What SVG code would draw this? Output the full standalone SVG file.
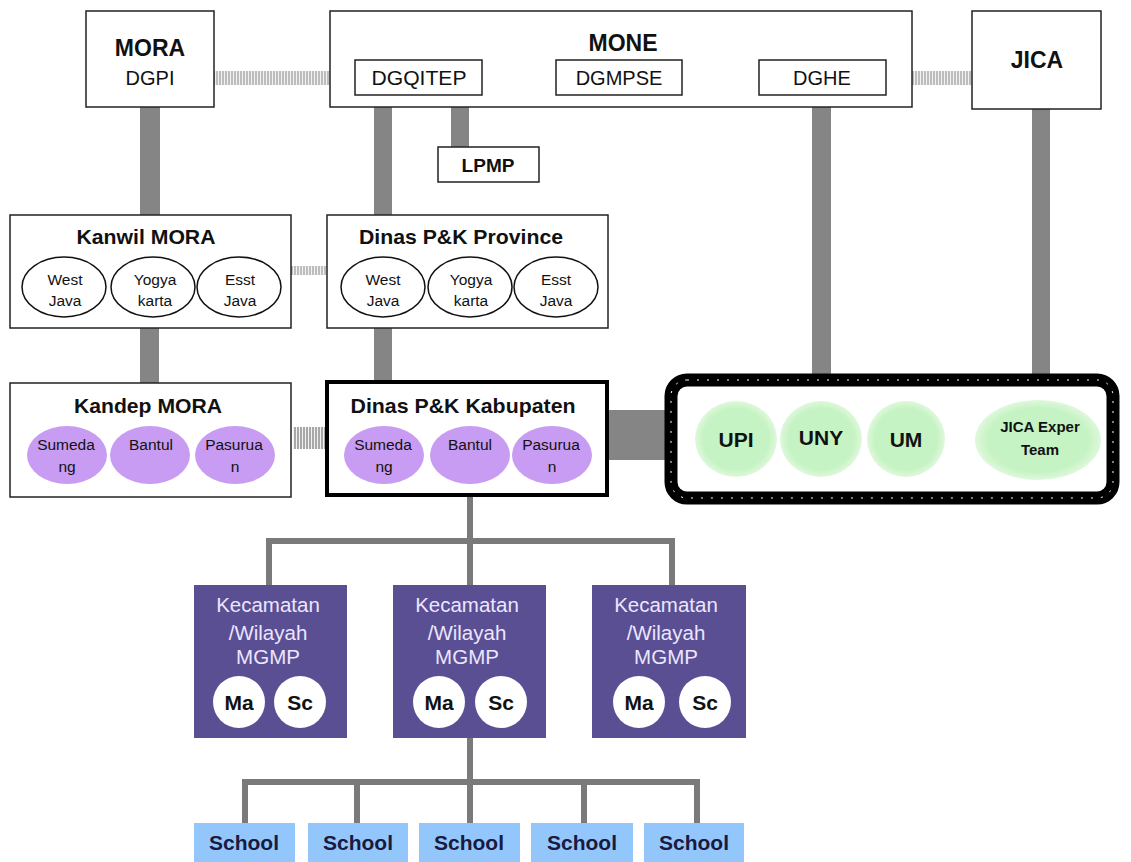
<svg xmlns="http://www.w3.org/2000/svg" width="1131" height="862" viewBox="0 0 1131 862">
<style>
text{font-family:"Liberation Sans",Arial,sans-serif;text-anchor:middle}
.box{fill:#fff;stroke:#222;stroke-width:1.5}
.bar{fill:#858585}
.line{stroke:#7a7a7a;stroke-width:6;fill:none;stroke-linecap:round}
.t-b{font-weight:bold;fill:#111}
.t{fill:#111}
.et{fill:#111;font-size:15.5px}
.ell{fill:#fff;stroke:#111;stroke-width:1.5}
.pur{fill:#c79cf2}
.kec{fill:#5a4f93}
.kt{fill:#ece6ff;font-size:20.5px}
.wc{fill:#fff}
.school{fill:#93c7fb}
.st{font-weight:bold;fill:#1a1a40;font-size:21px}
.ttl{font-weight:bold;fill:#111;font-size:21px}
</style>
<defs>
<pattern id="hatch" width="3" height="10" patternUnits="userSpaceOnUse">
<rect width="3" height="10" fill="#f2f2f2"/>
<rect width="2" height="10" fill="#bdbdbd"/>
</pattern>
<pattern id="hatch2" width="3" height="10" patternUnits="userSpaceOnUse">
<rect width="3" height="10" fill="#f2f2f2"/>
<rect width="2" height="10" fill="#a8a8a8"/>
</pattern>
<radialGradient id="gg" cx="0.5" cy="0.5" r="0.5">
<stop offset="0.8" stop-color="#c6f3c3"/>
<stop offset="1" stop-color="#dff8dc"/>
</radialGradient>
</defs>
<rect width="1131" height="862" fill="#fff"/>

<g id="connectors">
<rect x="214" y="71" width="141" height="14" fill="url(#hatch)"/>
<rect x="482" y="71" width="74" height="14" fill="url(#hatch)"/>
<rect x="682" y="71" width="77" height="14" fill="url(#hatch)"/>
<rect x="886" y="71" width="86" height="14" fill="url(#hatch)"/>
<rect x="291" y="266" width="36" height="9" fill="url(#hatch)"/>
<rect x="293" y="427" width="32" height="22" fill="url(#hatch2)"/>
<rect class="bar" x="140" y="107" width="20" height="108"/>
<rect class="bar" x="374" y="95" width="18" height="120"/>
<rect class="bar" x="451" y="95" width="18" height="52"/>
<rect class="bar" x="812" y="95" width="19" height="282"/>
<rect class="bar" x="1032" y="109" width="18" height="268"/>
<rect class="bar" x="140" y="328" width="19" height="55"/>
<rect class="bar" x="374" y="328" width="18" height="53"/>
<rect class="bar" x="607" y="410" width="58" height="50"/>
<path class="line" d="M470 496V585M269 585V541H672V585"/>
<path class="line" d="M470 738V823M245 823V782H697V823M357 782V823M584 782V823"/>
</g>

<g id="mora">
<rect class="box" x="86" y="11" width="128" height="96"/>
<text class="t-b" x="150" y="56" font-size="23">MORA</text>
<text class="t" x="150" y="85" font-size="20">DGPI</text>
</g>
<g id="mone">
<rect class="box" x="330" y="11" width="582" height="96"/>
<text class="t-b" x="623" y="51" font-size="23">MONE</text>
</g>
<g id="dgqitep">
<rect class="box" x="355" y="60" width="127" height="35"/>
<text class="t" x="419" y="85" font-size="20" textLength="95" lengthAdjust="spacingAndGlyphs">DGQITEP</text>
</g>
<g id="dgmpse">
<rect class="box" x="556" y="60" width="126" height="35"/>
<text class="t" x="619" y="85" font-size="20">DGMPSE</text>
</g>
<g id="dghe">
<rect class="box" x="759" y="60" width="127" height="35"/>
<text class="t" x="822" y="85" font-size="20">DGHE</text>
</g>
<g id="jica">
<rect class="box" x="972" y="11" width="129" height="98"/>
<text class="t-b" x="1037" y="68" font-size="23">JICA</text>
</g>
<g id="lpmp">
<rect class="box" x="438" y="147" width="101" height="35"/>
<text class="t-b" x="488" y="172" font-size="19">LPMP</text>
</g>

<g id="kanwil">
<rect class="box" x="10" y="215" width="281" height="113"/>
<text class="ttl" x="146" y="244" textLength="139" lengthAdjust="spacingAndGlyphs">Kanwil MORA</text>
<ellipse class="ell" cx="64" cy="287" rx="42" ry="30"/>
<ellipse class="ell" cx="153" cy="287" rx="42" ry="30"/>
<ellipse class="ell" cx="239" cy="287" rx="42" ry="30"/>
<text class="et"><tspan x="65" y="285">West</tspan><tspan x="65" y="306">Java</tspan></text>
<text class="et"><tspan x="155" y="285">Yogya</tspan><tspan x="155" y="306">karta</tspan></text>
<text class="et"><tspan x="240" y="285">Esst</tspan><tspan x="240" y="306">Java</tspan></text>
</g>
<g id="province">
<rect class="box" x="327" y="215" width="281" height="113"/>
<text class="ttl" x="461" y="244" textLength="204" lengthAdjust="spacingAndGlyphs">Dinas P&amp;K Province</text>
<ellipse class="ell" cx="383" cy="287" rx="42" ry="30"/>
<ellipse class="ell" cx="470" cy="287" rx="42" ry="30"/>
<ellipse class="ell" cx="556" cy="287" rx="42" ry="30"/>
<text class="et"><tspan x="383" y="285">West</tspan><tspan x="383" y="306">Java</tspan></text>
<text class="et"><tspan x="471" y="285">Yogya</tspan><tspan x="471" y="306">karta</tspan></text>
<text class="et"><tspan x="556" y="285">Esst</tspan><tspan x="556" y="306">Java</tspan></text>
</g>
<g id="kandep">
<rect class="box" x="10" y="383" width="281" height="114"/>
<text class="ttl" x="148" y="413" textLength="148" lengthAdjust="spacingAndGlyphs">Kandep MORA</text>
<ellipse class="pur" cx="67" cy="455" rx="40" ry="29"/>
<ellipse class="pur" cx="150" cy="455" rx="40" ry="29"/>
<ellipse class="pur" cx="235" cy="455" rx="40" ry="29"/>
<text class="et"><tspan x="66" y="450">Sumeda</tspan><tspan x="67" y="472">ng</tspan></text>
<text class="et" x="151" y="450">Bantul</text>
<text class="et"><tspan x="234" y="450">Pasurua</tspan><tspan x="235" y="472">n</tspan></text>
</g>
<g id="kabupaten">
<rect x="327" y="382" width="280" height="113" fill="#fff" stroke="#000" stroke-width="4"/>
<text class="ttl" x="463" y="413" textLength="225" lengthAdjust="spacingAndGlyphs">Dinas P&amp;K Kabupaten</text>
<ellipse class="pur" cx="384" cy="455" rx="40" ry="29"/>
<ellipse class="pur" cx="470" cy="455" rx="40" ry="29"/>
<ellipse class="pur" cx="552" cy="455" rx="40" ry="29"/>
<text class="et"><tspan x="383" y="450">Sumeda</tspan><tspan x="384" y="472">ng</tspan></text>
<text class="et" x="470" y="450">Bantul</text>
<text class="et"><tspan x="551" y="450">Pasurua</tspan><tspan x="552" y="472">n</tspan></text>
</g>
<g id="universities">
<rect x="671" y="380" width="442" height="118" rx="16" fill="#fff" stroke="#000" stroke-width="13"/>
<rect x="671" y="380" width="442" height="118" rx="16" fill="none" stroke="#fff" stroke-width="1" stroke-dasharray="2 8"/>
<ellipse fill="url(#gg)" cx="736" cy="439" rx="41" ry="38"/>
<ellipse fill="url(#gg)" cx="821" cy="439" rx="41" ry="38"/>
<ellipse fill="url(#gg)" cx="906" cy="439" rx="39" ry="38"/>
<ellipse fill="url(#gg)" cx="1038" cy="440" rx="63" ry="40"/>
<text class="t-b" x="736" y="447" font-size="21" fill="#1a1a3a">UPI</text>
<text class="t-b" x="821" y="445" font-size="21" fill="#1a1a3a">UNY</text>
<text class="t-b" x="906" y="447" font-size="21" fill="#1a1a3a">UM</text>
<text class="t-b" font-size="15" fill="#1a1a3a"><tspan x="1040" y="432">JICA Exper</tspan><tspan x="1040" y="455">Team</tspan></text>
</g>

<g id="kec1">
<rect class="kec" x="194" y="585" width="153" height="153"/>
<text class="kt"><tspan x="268" y="612">Kecamatan</tspan><tspan x="268" y="640">/Wilayah</tspan><tspan x="268" y="664">MGMP</tspan></text>
<circle class="wc" cx="239" cy="702" r="26"/><circle class="wc" cx="300" cy="702" r="26"/>
<text class="t-b" x="239" y="710" font-size="21">Ma</text><text class="t-b" x="300" y="710" font-size="21">Sc</text>
</g>
<g id="kec2">
<rect class="kec" x="393" y="585" width="153" height="153"/>
<text class="kt"><tspan x="467" y="612">Kecamatan</tspan><tspan x="467" y="640">/Wilayah</tspan><tspan x="467" y="664">MGMP</tspan></text>
<circle class="wc" cx="439" cy="702" r="26"/><circle class="wc" cx="501" cy="702" r="26"/>
<text class="t-b" x="439" y="710" font-size="21">Ma</text><text class="t-b" x="501" y="710" font-size="21">Sc</text>
</g>
<g id="kec3">
<rect class="kec" x="592" y="585" width="154" height="153"/>
<text class="kt"><tspan x="666" y="612">Kecamatan</tspan><tspan x="666" y="640">/Wilayah</tspan><tspan x="666" y="664">MGMP</tspan></text>
<circle class="wc" cx="639" cy="702" r="26"/><circle class="wc" cx="705" cy="702" r="26"/>
<text class="t-b" x="639" y="710" font-size="21">Ma</text><text class="t-b" x="705" y="710" font-size="21">Sc</text>
</g>

<g id="school1"><rect class="school" x="194" y="823" width="101" height="39"/><text class="st" x="244" y="850">School</text></g>
<g id="school2"><rect class="school" x="308" y="823" width="100" height="39"/><text class="st" x="358" y="850">School</text></g>
<g id="school3"><rect class="school" x="419" y="823" width="101" height="39"/><text class="st" x="469" y="850">School</text></g>
<g id="school4"><rect class="school" x="531" y="823" width="102" height="39"/><text class="st" x="582" y="850">School</text></g>
<g id="school5"><rect class="school" x="644" y="823" width="100" height="39"/><text class="st" x="694" y="850">School</text></g>
</svg>
